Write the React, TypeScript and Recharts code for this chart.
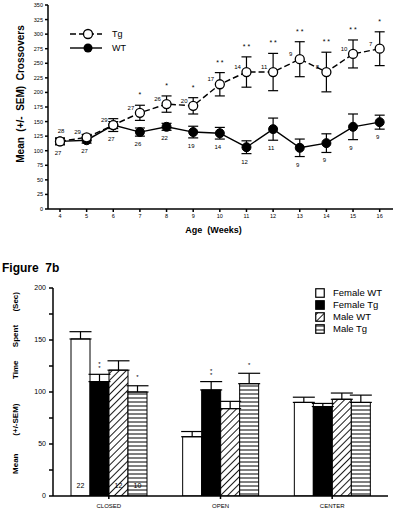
import React from 'react';
import { LineChart, Line, XAxis, YAxis, ErrorBar, LabelList, Label, BarChart, Bar } from 'recharts';

// Figure 7a: crossovers by age
const weeks = [4, 5, 6, 7, 8, 9, 10, 11, 12, 13, 14, 15, 16];
const tgMean = [116, 123, 144, 165, 180, 177, 214, 235, 235, 257, 235, 266, 275];
const tgSem = [5, 5, 6, 13, 14, 14, 20, 26, 32, 30, 34, 24, 29];
const wtMean = [116, 118, 144, 132, 141, 132, 130, 106, 137, 105, 113, 141, 149];
const wtSem = [6, 5, 11, 7, 6, 10, 10, 11, 19, 15, 16, 22, 12];
const tgN = ['28', '29', '29', '27', '26', '20', '17', '14', '11', '9', '8', '10', '7'];
const wtN = ['27', '27', '27', '26', '22', '19', '14', '12', '11', '9', '9', '9', '9'];
const tgStars = ['', '', '', '*', '*', '*', '* *', '* *', '* *', '* *', '* *', '* *', '*'];
const crossTicks = [0, 25, 50, 75, 100, 125, 150, 175, 200, 225, 250, 275, 300, 325, 350];

// Figure 7b: time spent per zone
const zones = ['CLOSED', 'OPEN', 'CENTER'];
const femaleWT = [151, 57, 90];
const femaleWTSem = [7, 5, 5];
const femaleTg = [110, 102, 86];
const femaleTgSem = [7, 8, 3];
const maleWT = [121, 84, 93];
const maleWTSem = [9, 7, 6];
const maleTg = [100, 108, 90];
const maleTgSem = [6, 10, 7];
const femaleTgStars = ['**', '**', ''];
const maleTgStars = ['*', '*', ''];
const femaleWTN = ['22', '', ''];
const maleWTN = ['12', '', ''];
const maleTgN = ['10', '', ''];
const timeTicks = [0, 25, 50, 75, 100, 125, 150, 175, 200];

const font = "'Liberation Sans', Arial, Helvetica, sans-serif";

const lineData = weeks.map((w, i) => ({
  week: w,
  tg: tgMean[i],
  tgSem: tgSem[i],
  wt: wtMean[i],
  wtSem: wtSem[i],
  tgN: tgN[i],
  wtN: wtN[i],
  star: tgStars[i],
  tgTop: tgMean[i] + tgSem[i],
  wtLow: wtMean[i] - wtSem[i],
}));

const barData = zones.map((z, i) => ({
  zone: z,
  fwt: femaleWT[i], fwtErr: [0, femaleWTSem[i]],
  ftg: femaleTg[i], ftgErr: [0, femaleTgSem[i]],
  mwt: maleWT[i], mwtErr: [0, maleWTSem[i]],
  mtg: maleTg[i], mtgErr: [0, maleTgSem[i]],
}));

const vbOf = (p: any) => p.viewBox || p;

const TgNLabel = (p: any) => {
  if (!p.value) return null;
  const vb = vbOf(p);
  const first = p.index === 0;
  return <text x={vb.x + (first ? 1 : -9)} y={vb.y + (first ? -10 : -5)} textAnchor="middle" dominantBaseline="central" fontSize={6} fill="#000" fontFamily={font}>{p.value}</text>;
};
const WtNLabel = (p: any) => {
  if (!p.value) return null;
  const vb = vbOf(p);
  return <text x={vb.x - 2} y={vb.y + 8} textAnchor="middle" dominantBaseline="central" fontSize={6} fill="#000" fontFamily={font}>{p.value}</text>;
};
const StarLabel = (p: any) => {
  if (!p.value) return null;
  const vb = vbOf(p);
  return <text x={vb.x} y={vb.y - 8} textAnchor="middle" fontSize={7} fill="#000" fontFamily={font} style={{ whiteSpace: 'pre' }}>{p.value}</text>;
};

const barStar = (sem: number[], mean: number[], marks: string[]) => (p: any) => {
  const i = p.index;
  const m = marks[i];
  if (!m) return null;
  const vb = vbOf(p);
  const k = Math.abs(vb.height) / mean[i];
  const top = Math.min(vb.y, vb.y + vb.height) - sem[i] * k - 10;
  const cx = vb.x + vb.width / 2;
  const y0 = top + 3.4 - (m.length - 1) * 2;
  return (
    <text x={cx} y={y0} textAnchor="middle" fontSize={6} fill="#000" fontFamily={font}>
      {m.split('').map((s, j) => (
        <tspan key={j} x={cx} dy={j === 0 ? 0 : 4}>{s}</tspan>
      ))}
    </text>
  );
};
const barN = (labels: string[]) => (p: any) => {
  const t = labels[p.index];
  if (!t) return null;
  const vb = vbOf(p);
  const bottom = Math.max(vb.y, vb.y + vb.height);
  return <text x={vb.x + vb.width / 2} y={bottom - 11} textAnchor="middle" dominantBaseline="central" fontSize={7} fill="#000" fontFamily={font}>{t}</text>;
};

const TgDot = (p: any) => <circle cx={p.cx} cy={p.cy} r={4.5} fill="#fff" stroke="#000" strokeWidth={1.3} />;
const WtDot = (p: any) => <circle cx={p.cx} cy={p.cy} r={4.5} fill="#000" stroke="#000" strokeWidth={1} />;

const legendItems = [
  { name: 'Female WT', fill: '#fff' },
  { name: 'Female Tg', fill: '#000' },
  { name: 'Male WT', fill: 'url(#diag)' },
  { name: 'Male Tg', fill: 'url(#horiz)' },
];

export default function App() {
  return (
    <div style={{ position: 'absolute', left: 0, top: 0, width: 400, height: 513, background: '#fff', fontFamily: font }}>
      <svg width={0} height={0} style={{ position: 'absolute' }}>
        <defs>
          <pattern id="diag" patternUnits="userSpaceOnUse" width={5} height={5} patternTransform="rotate(45)">
            <rect width={5} height={5} fill="#fff" />
            <line x1={2.5} y1={0} x2={2.5} y2={5} stroke="#000" strokeWidth={0.9} />
          </pattern>
          <pattern id="horiz" patternUnits="userSpaceOnUse" width={4} height={4}>
            <rect width={4} height={4} fill="#fff" />
            <line x1={0} y1={2} x2={4} y2={2} stroke="#000" strokeWidth={1} />
          </pattern>
        </defs>
      </svg>

      <div style={{ position: 'absolute', left: 0, top: 0 }}>
        <LineChart width={400} height={250} data={lineData} margin={{ top: 5, right: 7, bottom: 21, left: 8 }}>
          <XAxis type="number" dataKey="week" domain={[3.55, 16.5]} ticks={weeks} allowDataOverflow height={20}
            stroke="#000" strokeWidth={1.5} tickSize={3} tickMargin={2} tick={{ fontSize: 5.5, fill: '#000', fontFamily: font }}>
            <Label content={(p: any) => (
              <text x={p.viewBox.x + p.viewBox.width / 2 - 7} y={p.viewBox.y + 24} textAnchor="middle" fontSize={9} fontWeight="bold" fill="#000" fontFamily={font} style={{ whiteSpace: 'pre' }}>Age  (Weeks)</text>
            )} />
          </XAxis>
          <YAxis type="number" domain={[0, 350]} ticks={crossTicks} width={40} allowDataOverflow
            stroke="#000" strokeWidth={1.5} tickSize={3} tickMargin={2} tick={{ fontSize: 5.5, fill: '#000', fontFamily: font }}>
            <Label content={(p: any) => (
              <text transform={`translate(${p.viewBox.x + 16},94) rotate(-90)`} textAnchor="middle" fontSize={10} fontWeight="bold" fill="#000" fontFamily={font} style={{ whiteSpace: 'pre' }}>Mean  (+/-  SEM)  Crossovers</text>
            )} />
          </YAxis>
          <Line dataKey="wt" stroke="#000" strokeWidth={1.4} dot={<WtDot />} activeDot={false} isAnimationActive={false}>
            <ErrorBar dataKey="wtSem" direction="y" width={5} stroke="#000" strokeWidth={1.2} />
          </Line>
          <Line dataKey="tg" stroke="#000" strokeWidth={1.4} strokeDasharray="6 3" dot={<TgDot />} activeDot={false} isAnimationActive={false}>
            <ErrorBar dataKey="tgSem" direction="y" width={5} stroke="#000" strokeWidth={1.2} />
            <LabelList dataKey="tgN" content={TgNLabel} />
          </Line>
          <Line dataKey="tgTop" stroke="none" dot={false} activeDot={false} isAnimationActive={false} legendType="none">
            <LabelList dataKey="star" content={StarLabel} />
          </Line>
          <Line dataKey="wtLow" stroke="none" dot={false} activeDot={false} isAnimationActive={false} legendType="none">
            <LabelList dataKey="wtN" content={WtNLabel} />
          </Line>
        </LineChart>
      </div>

      <svg width={80} height={60} style={{ position: 'absolute', left: 60, top: 20 }}>
        <line x1={10} y1={14} x2={42} y2={14} stroke="#000" strokeWidth={1.4} strokeDasharray="6 3" />
        <circle cx={28} cy={14} r={4.5} fill="#fff" stroke="#000" strokeWidth={1.3} />
        <text x={52} y={14} dominantBaseline="central" fontSize={9} fill="#000" fontFamily={font}>Tg</text>
        <line x1={10} y1={28} x2={42} y2={28} stroke="#000" strokeWidth={1.4} />
        <circle cx={28} cy={28} r={4.5} fill="#000" />
        <text x={52} y={28} dominantBaseline="central" fontSize={9} fill="#000" fontFamily={font}>WT</text>
      </svg>

      <div style={{ position: 'absolute', left: 2, top: 262, fontSize: 12, lineHeight: '12px', fontWeight: 'bold', whiteSpace: 'pre' }}>Figure  7b</div>

      <div style={{ position: 'absolute', left: 0, top: 260 }}>
        <BarChart width={400} height={253} data={barData} margin={{ top: 28, right: 12, bottom: 3, left: 13 }} barGap={0} barSize={19}>
          <XAxis dataKey="zone" height={14} stroke="#000" strokeWidth={1.5} tickSize={3} tickMargin={5}
            tick={{ fontSize: 6, fill: '#000', fontFamily: font }} />
          <YAxis type="number" domain={[0, 200]} ticks={timeTicks} width={40} allowDataOverflow
            stroke="#000" strokeWidth={1.5} tickSize={4} tickMargin={3}
            tickFormatter={(v: number) => (v % 50 === 0 ? String(v) : '')}
            tick={{ fontSize: 7, fill: '#000', fontFamily: font }}>
            <Label content={(p: any) => (
              <text transform={`translate(${p.viewBox.x + 5},123) rotate(-90)`} textAnchor="middle" fontSize={8} fontWeight="bold" fill="#000" fontFamily={font} style={{ whiteSpace: 'pre' }}>Mean        (+/-SEM)           Time      Spent      (Sec)</text>
            )} />
          </YAxis>
          <Bar dataKey="fwt" fill="#fff" stroke="#000" strokeWidth={1} isAnimationActive={false}>
            <ErrorBar dataKey="fwtErr" direction="y" width={11} stroke="#000" strokeWidth={1.2} />
            <LabelList dataKey="fwt" content={barN(femaleWTN)} />
          </Bar>
          <Bar dataKey="ftg" fill="#000" stroke="#000" strokeWidth={1} isAnimationActive={false}>
            <ErrorBar dataKey="ftgErr" direction="y" width={11} stroke="#000" strokeWidth={1.2} />
            <LabelList dataKey="ftg" content={barStar(femaleTgSem, femaleTg, femaleTgStars)} />
          </Bar>
          <Bar dataKey="mwt" fill="url(#diag)" stroke="#000" strokeWidth={1} isAnimationActive={false}>
            <ErrorBar dataKey="mwtErr" direction="y" width={11} stroke="#000" strokeWidth={1.2} />
            <LabelList dataKey="mwt" content={barN(maleWTN)} />
          </Bar>
          <Bar dataKey="mtg" fill="url(#horiz)" stroke="#000" strokeWidth={1} isAnimationActive={false}>
            <ErrorBar dataKey="mtgErr" direction="y" width={11} stroke="#000" strokeWidth={1.2} />
            <LabelList dataKey="mtg" content={barStar(maleTgSem, maleTg, maleTgStars)} />
            <LabelList dataKey="mtg" content={barN(maleTgN)} />
          </Bar>
        </BarChart>
      </div>

      <div style={{ position: 'absolute', left: 315, top: 287 }}>
        {legendItems.map((it) => (
          <div key={it.name} style={{ display: 'flex', alignItems: 'center', height: 12 }}>
            <svg width={10} height={10} style={{ marginRight: 8 }}>
              <rect x={0.75} y={0.75} width={8.5} height={8.5} fill={it.fill} stroke="#000" strokeWidth={1.2} />
            </svg>
            <span style={{ fontSize: 9.5, lineHeight: '12px', color: '#000' }}>{it.name}</span>
          </div>
        ))}
      </div>
    </div>
  );
}
